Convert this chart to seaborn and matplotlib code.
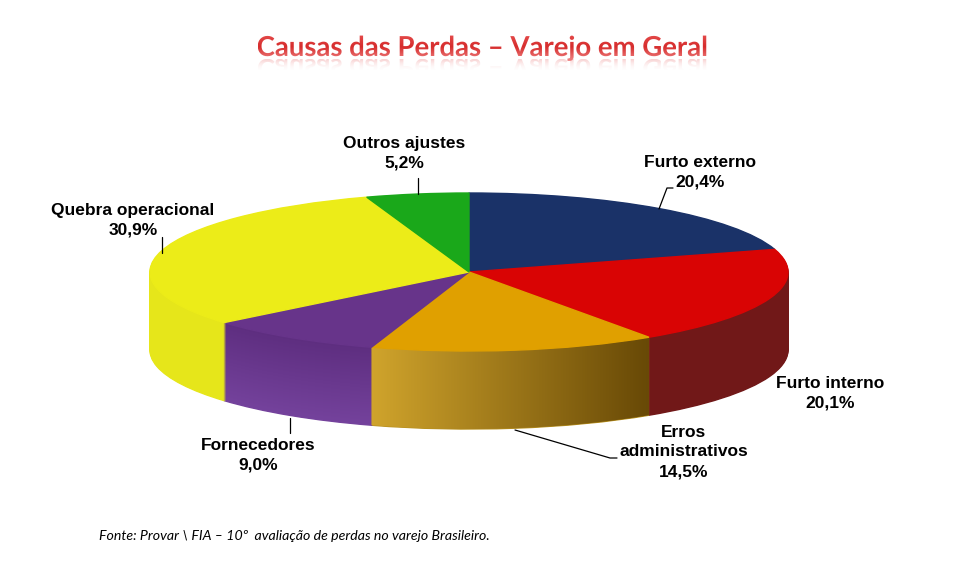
import numpy as np
import matplotlib
matplotlib.use("Agg")
import matplotlib.pyplot as plt
import seaborn as sns
from matplotlib.textpath import TextPath
from matplotlib.font_manager import FontProperties
from matplotlib.patches import PathPatch, Polygon
from matplotlib.transforms import Affine2D
from matplotlib.colors import to_rgb

# dados do grafico
causas = ["Furto externo", "Furto interno", "Erros\nadministrativos",
          "Fornecedores", "Quebra operacional", "Outros ajustes"]
percentuais = [20.4, 20.1, 14.5, 9.0, 30.9, 5.2]
rotulos_pct = ["20,4%", "20,1%", "14,5%", "9,0%", "30,9%", "5,2%"]
cores_topo = ["#1A3268", "#D90404", "#E0A000", "#67348A", "#ECEC18", "#1AA81A"]
cores_lado = ["#15285A", "#711818", "#B8901E", "#6E3C94", "#E6E61A", "#148A14"]
titulo = "Causas das Perdas – Varejo em Geral"
fonte = "Fonte: Provar \\ FIA – 10º  avaliação de perdas no varejo Brasileiro."

sns.set_theme(style="white")
plt.rcParams['font.family'] = ['Liberation Sans', 'DejaVu Sans']

W, H = 959, 561
fig = plt.figure(figsize=(W / 100, H / 100), dpi=100)
ax = fig.add_axes([0, 0, 1, 1])

# geometria da pizza (pixels)
CX, CY, RX, RY, PROF = 469, 272, 319, 79, 78
d = PROF / RY


def px(x, y):
    return (x - CX) / RX, (CY - y) / RY


def mistura(c1, c2, t):
    a, b = np.array(to_rgb(c1)), np.array(to_rgb(c2))
    return tuple(a + (b - a) * t)


# camadas empilhadas para dar o efeito 3D
n = 78
for i in range(n + 1):
    off = -d * (1 - i / n)
    if i == n:
        cores, z = cores_topo, 3
    else:
        cores = list(cores_lado)
        cores[3] = mistura("#74429C", "#5E2E80", i / n)  # roxo mais escuro em cima
        z = 1
    fatias, _ = ax.pie(percentuais, colors=cores, startangle=90,
                       counterclock=False, center=(0, off), radius=1,
                       wedgeprops=dict(linewidth=1.0))
    for f in fatias:
        f.set_edgecolor(f.get_facecolor())
        f.set_zorder(z)

# degrade na lateral da fatia "Erros administrativos"
ang = 90 - 360 * np.concatenate([[0], np.cumsum(percentuais)]) / np.sum(percentuais)
t = np.radians(np.linspace(ang[2], ang[3], 60))
topo = np.column_stack([np.cos(t), np.sin(t)])
base = np.column_stack([np.cos(t[::-1]), np.sin(t[::-1]) - d])
contorno = Polygon(np.vstack([topo, base]), closed=True, facecolor="none",
                   edgecolor="none", transform=ax.transData)
ax.add_patch(contorno)
grad = np.array([mistura("#D0A42C", "#684906", s) for s in np.linspace(0, 1, 256)])
img = ax.imshow(grad[np.newaxis, :, :], aspect="auto", zorder=2,
                extent=(np.cos(t).min(), np.cos(t).max(), -1.0 - d, 0))
img.set_clip_path(contorno)

ax.set_aspect("auto")
ax.set_xlim(px(0, 0)[0], px(W, 0)[0])
ax.set_ylim(px(0, H)[1], px(0, 0)[1])
ax.axis("off")

# rotulos
fs = 12.5
def rotulo(txt, x, y):
    fig.text(x / W, 1 - y / H, txt, ha="center", va="center",
             fontsize=fs, fontweight="bold", color="black", linespacing=1.38)

rotulo(causas[0] + "\n" + rotulos_pct[0], 700, 172)
rotulo(causas[1] + "\n" + rotulos_pct[1], 830, 393)
rotulo(causas[2] + "\n" + rotulos_pct[2], 684, 452)
rotulo(causas[3] + "\n" + rotulos_pct[3], 258, 455)
rotulo(causas[4] + "\n" + rotulos_pct[4], 133, 220)
rotulo(causas[5] + "\n" + rotulos_pct[5], 404, 153)

# linhas de chamada
linhas = [
    [(659, 209), (667, 188), (673, 188)],
    [(515, 430), (610, 458), (617, 458)],
    [(290, 418), (290, 433)],
    [(162, 237), (162, 253)],
    [(418, 178), (418, 194)],
]
for ln in linhas:
    xs, ys = zip(*[px(a, b) for a, b in ln])
    ax.plot(xs, ys, color="black", lw=0.9, zorder=4)

# titulo com degrade e reflexo
axt = fig.add_axes([0, 0, 1, 1], zorder=5)
axt.axis("off")
fp = FontProperties(family=["Lato", "DejaVu Sans"], weight="bold")
tp = TextPath((0, 0), titulo, size=27.5, prop=fp)
ext = tp.get_extents()
x0 = 482 - (ext.x0 + ext.x1) / 2
yb = H - 56
p_tit = PathPatch(Affine2D().translate(x0, yb).transform_path(tp),
                  facecolor="none", edgecolor="none")
axt.add_patch(p_tit)
s = np.linspace(0, 1, 64)
g_tit = np.array([mistura("#F08686", "#D62C2C", v / 0.55) if v < 0.55
                  else mistura("#D62C2C", "#E44A4A", (v - 0.55) / 0.45) for v in s])
im_t = axt.imshow(g_tit[:, np.newaxis, :], origin="lower", aspect="auto",
                  extent=(x0 + ext.x0, x0 + ext.x1, yb + ext.y0, yb + ext.y1))
im_t.set_clip_path(p_tit)

p_ref = PathPatch(Affine2D().scale(1, -1).translate(x0, yb - 3).transform_path(tp),
                  facecolor="none", edgecolor="none")
axt.add_patch(p_ref)
g_ref = np.zeros((64, 1, 4))
g_ref[:, 0, :3] = to_rgb("#E85858")
g_ref[:, 0, 3] = 0.28 * np.linspace(0, 1, 64) ** 2
im_r = axt.imshow(g_ref, origin="lower", aspect="auto",
                  extent=(x0 + ext.x0, x0 + ext.x1, yb - 3 - 13, yb - 3))
im_r.set_clip_path(p_ref)
axt.set_xlim(0, W)
axt.set_ylim(0, H)
axt.set_aspect("auto")

fig.text(99 / W, 1 - 536 / H, fonte, ha="left", va="center", fontsize=10.2,
         style="italic", color="black", family=["Lato", "DejaVu Sans"])

fig.savefig("out.png", dpi=100, facecolor="white")
